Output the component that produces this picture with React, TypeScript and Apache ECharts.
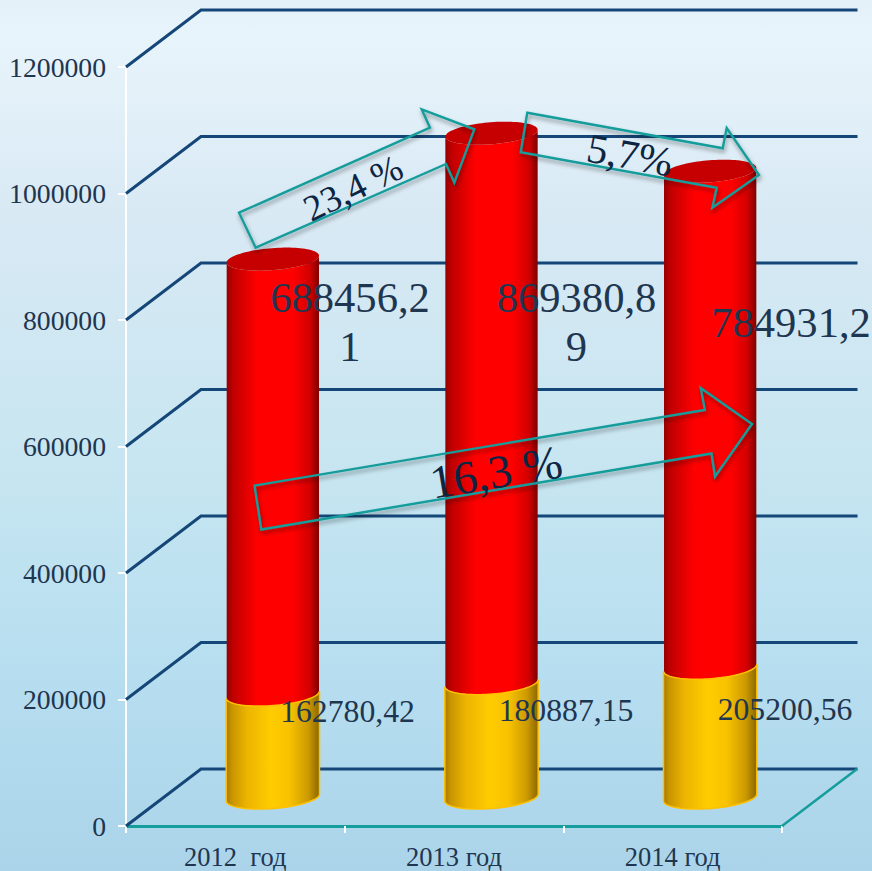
import React, { useEffect, useRef } from "react";
import * as echarts from "echarts";

const categories = ["2012  год", "2013 год", "2014 год"];
const baseValues = [162780.42, 180887.15, 205200.56];
const topValues = [688456.21, 869380.89, 784931.2];
const baseLabels = ["162780,42", "180887,15", "205200,56"];
const topLabels = ["688456,2\n1", "869380,8\n9", "784931,2"];
const yTicks = [0, 200000, 400000, 600000, 800000, 1000000, 1200000];
const changeLabels = ["23,4 %", "5,7%", "16,3 %"];

const SERIF = '"Liberation Serif", "Times New Roman", serif';
const TEXT = "#1f3650";
const TEAL = "#149d9b";
const DEPTH_X = 75;
const DEPTH_Y = 57;
const TILT = (4.5 * Math.PI) / 180;
const ARC_STEPS = 48;

// Points along the front (lower) half of the tilted ellipse of a cylinder's cross-section, left to right.
function frontArc(cx: number, cy: number, rx: number, ry: number): number[][] {
  const pts: number[][] = [];
  for (let k = 0; k <= ARC_STEPS; k++) {
    const t = Math.PI - (Math.PI * k) / ARC_STEPS;
    const u = rx * Math.cos(t);
    const v = ry * Math.sin(t);
    pts.push([cx + u * Math.cos(TILT) + v * Math.sin(TILT), cy - u * Math.sin(TILT) + v * Math.cos(TILT)]);
  }
  return pts;
}

function backArc(cx: number, cy: number, rx: number, ry: number): number[][] {
  const pts: number[][] = [];
  for (let k = 0; k <= ARC_STEPS; k++) {
    const t = (Math.PI * k) / ARC_STEPS;
    const u = rx * Math.cos(t);
    const v = -ry * Math.sin(t);
    pts.push([cx + u * Math.cos(TILT) + v * Math.sin(TILT), cy - u * Math.sin(TILT) + v * Math.cos(TILT)]);
  }
  return pts;
}

const toPath = (pts: number[][]) =>
  pts.map((p, i) => `${i ? "L" : "M"}${p[0].toFixed(2)} ${p[1].toFixed(2)}`).join(" ") + " Z";

function bodyPath(cx: number, y0: number, y1: number, rx: number, ry: number) {
  return toPath([...frontArc(cx, y0, rx, ry), ...frontArc(cx, y1, rx, ry).reverse()]);
}

function ellipsePath(cx: number, cy: number, rx: number, ry: number) {
  return toPath([...frontArc(cx, cy, rx, ry), ...backArc(cx, cy, rx, ry)]);
}

const grad = (stops: [number, string][]) =>
  new echarts.graphic.LinearGradient(
    0,
    0,
    1,
    0,
    stops.map(([offset, color]) => ({ offset, color }))
  );

const redFill = () =>
  grad([
    [0, "#960000"],
    [0.07, "#c00000"],
    [0.33, "#ff0000"],
    [0.72, "#ff0000"],
    [0.9, "#d20000"],
    [1, "#800000"],
  ]);
const goldFill = () =>
  grad([
    [0, "#a67a00"],
    [0.06, "#c89400"],
    [0.22, "#ecb400"],
    [0.48, "#ffcc00"],
    [0.68, "#f8c200"],
    [0.88, "#cc9a00"],
    [1, "#8a6600"],
  ]);

function arrow(points: number[][]) {
  return {
    type: "polygon",
    z: 20,
    shape: { points },
    style: {
      fill: "none",
      stroke: TEAL,
      lineWidth: 2.4,
      shadowBlur: 4,
      shadowOffsetX: 1,
      shadowOffsetY: 3,
      shadowColor: "rgba(0,0,0,0.4)",
    },
  };
}

function label(text: string, x: number, y: number, size: number, rotDeg = 0, fill = TEXT) {
  return {
    type: "text",
    z: 21,
    x,
    y,
    rotation: (rotDeg * Math.PI) / 180,
    style: {
      text,
      fill,
      font: `${size}px ${SERIF}`,
      align: "center",
      verticalAlign: "middle",
      lineHeight: 49,
    },
  };
}

export default function App() {
  const ref = useRef<HTMLDivElement>(null);
  useEffect(() => {
    const chart = echarts.init(ref.current!, null, { renderer: "svg" });

    const cylinder = (values: number[], bases: number[], rx: number, isTop: boolean) => ({
      type: "custom",
      silent: true,
      z: isTop ? 5 : 6,
      clip: false,
      encode: { x: 0, y: [1, 2] },
      data: values.map((v, i) => [i, bases[i], bases[i] + v]),
      renderItem: (_p: any, api: any) => {
        const i = api.value(0);
        const lo = api.coord([i, api.value(1)]);
        const hi = api.coord([i, api.value(2)]);
        const cx = lo[0] + DEPTH_X / 2;
        const y0 = lo[1] - DEPTH_Y / 2;
        const y1 = hi[1] - DEPTH_Y / 2;
        const ry = 11;
        const children: any[] = [
          {
            type: "path",
            shape: { pathData: bodyPath(cx, y0, y1, rx, ry) },
            style: isTop
              ? { fill: redFill() }
              : { fill: goldFill(), stroke: "#ffc000", lineWidth: 1.5 },
          },
        ];
        if (isTop) {
          children.push({
            type: "path",
            shape: { pathData: ellipsePath(cx, y1, rx, ry) },
            style: { fill: "#c60000" },
          });
        }
        return { type: "group", children };
      },
    });

    chart.setOption({
      animation: false,
      backgroundColor: new echarts.graphic.LinearGradient(0, 0, 0, 1, [
        { offset: 0, color: "#e4f1f9" },
        { offset: 0.04, color: "#e8f4fb" },
        { offset: 0.25, color: "#d8e9f4" },
        { offset: 0.52, color: "#c8e6f1" },
        { offset: 0.75, color: "#b8dff0" },
        { offset: 1, color: "#abd4ea" },
      ]),
      grid: { left: 126, top: 67, width: 656, height: 759 },
      xAxis: {
        type: "category",
        data: categories,
        axisLine: { lineStyle: { color: TEAL, width: 3 } },
        axisTick: { show: true, length: 7, alignWithLabel: false, lineStyle: { color: "#ffffff", width: 2 } },
        axisLabel: {
          color: TEXT,
          fontFamily: SERIF,
          fontSize: 26.5,
          margin: 17,
          interval: 0,
        },
      },
      yAxis: {
        type: "value",
        min: 0,
        max: 1200000,
        interval: 200000,
        axisLine: { show: true, lineStyle: { color: "#ffffff", width: 2 } },
        axisTick: { show: true, length: 8, lineStyle: { color: "#ffffff", width: 2 } },
        splitLine: { show: false },
        axisLabel: {
          color: TEXT,
          fontFamily: SERIF,
          fontSize: 27.7,
          margin: 20,
          formatter: (v: number) => String(v),
        },
      },
      series: [
        {
          type: "custom",
          silent: true,
          z: 2,
          clip: false,
          encode: { y: 1 },
          data: yTicks.map((v) => [0, v]),
          renderItem: (p: any, api: any) => {
            const sys = p.coordSys;
            const y = api.coord([0, api.value(1)])[1];
            return {
              type: "polyline",
              shape: {
                points: [
                  [sys.x, y],
                  [sys.x + DEPTH_X, y - DEPTH_Y],
                  [sys.x + sys.width + DEPTH_X + 0.5, y - DEPTH_Y],
                ],
              },
              style: { fill: "none", stroke: "#144678", lineWidth: 3 },
            };
          },
        },
        {
          type: "custom",
          silent: true,
          z: 3,
          clip: false,
          encode: { y: 1 },
          data: [[0, yTicks[0]]],
          renderItem: (p: any, api: any) => {
            const sys = p.coordSys;
            const y = api.coord([0, api.value(1)])[1];
            const xr = sys.x + sys.width;
            return {
              type: "line",
              shape: { x1: xr, y1: y, x2: xr + DEPTH_X, y2: y - DEPTH_Y },
              style: { stroke: TEAL, lineWidth: 2.5 },
            };
          },
        },
        cylinder(topValues, baseValues, 46.3, true),
        cylinder(baseValues, baseValues.map(() => 0), 46.8, false),
      ],
      graphic: {
        elements: [
          label(baseLabels[0], 347.5, 711, 31.7),
          label(baseLabels[1], 566, 710, 31.7),
          label(baseLabels[2], 785, 709, 31.7),
          label(topLabels[0], 350, 322, 42.6),
          label(topLabels[1], 576.5, 322, 42.6),
          label(topLabels[2], 791, 322, 42.6),
          arrow([
            [255.7, 247.7],
            [239, 212.7],
            [430, 127.7],
            [421.7, 109.3],
            [474.3, 129.3],
            [454.3, 182.7],
            [446, 164],
          ]),
          arrow([
            [527.3, 112.7],
            [722.7, 148.3],
            [726.7, 128],
            [759, 175],
            [712.3, 207.7],
            [716.7, 187.7],
            [520.7, 152.3],
          ]),
          arrow([
            [254.5, 485.6],
            [704.8, 409.9],
            [700.7, 387.9],
            [752, 424],
            [715, 476.5],
            [711.5, 453.5],
            [261.3, 529.5],
          ]),
          label(changeLabels[0], 353, 188, 37, 26, "#0d2542"),
          label(changeLabels[1], 630, 155, 41.5, -10.5, "#0d2542"),
          label(changeLabels[2], 496, 472, 47, 9.5, "#0d2542"),
        ],
      },
    });
    return () => chart.dispose();
  }, []);
  return (
    <div
      ref={ref}
      style={{ position: "absolute", left: 0, top: 0, width: 872, height: 871 }}
    />
  );
}
